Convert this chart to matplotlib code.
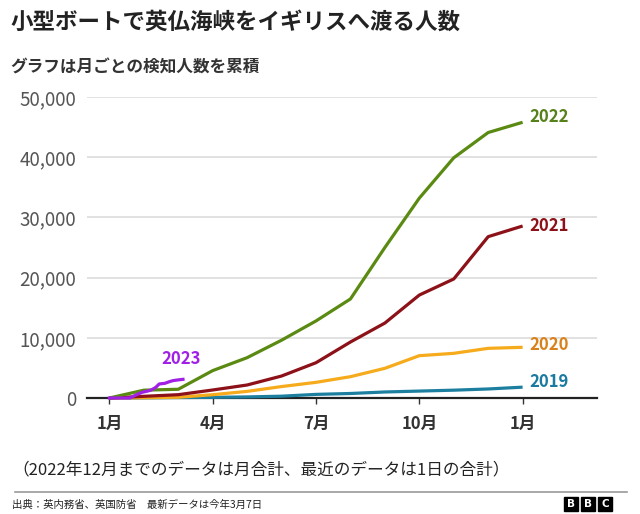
import matplotlib
matplotlib.use("Agg")
import matplotlib.pyplot as plt
from matplotlib.patches import Rectangle
from matplotlib.lines import Line2D
from matplotlib.ticker import FuncFormatter

plt.rcParams['font.family'] = ['Noto Sans CJK JP', 'DejaVu Sans']

title = "小型ボートで英仏海峡をイギリスへ渡る人数"
subtitle = "グラフは月ごとの検知人数を累積"
note = "（2022年12月までのデータは月合計、最近のデータは1日の合計）"
source = "出典：英内務省、英国防省　最新データは今年3月7日"

# month-end index (0 = start of January, 12 = end of December)
months = list(range(13))
tick_pos = [0, 3, 6, 9, 12]
tick_labels = ["1月", "4月", "7月", "10月", "1月"]
y_ticks = [0, 10000, 20000, 30000, 40000, 50000]

v2019 = [0, 30, 80, 110, 180, 300, 600, 750, 1000, 1150, 1300, 1500, 1800]
v2020 = [0, 50, 120, 550, 1100, 1900, 2600, 3540, 4930, 7030, 7420, 8250, 8420]
v2021 = [0, 280, 550, 1330, 2160, 3650, 5860, 9300, 12450, 17100, 19770, 26800, 28570]
v2022 = [0, 1300, 1450, 4550, 6700, 9600, 12800, 16450, 25000, 33200, 39900, 44100, 45800]

# 2023: daily cumulative (day of year, value)
days_2023 = [0, 18, 19, 24, 29, 34, 37, 41, 44, 49, 53, 56, 60, 65]
v2023 = [0, 0, 80, 550, 950, 1160, 1330, 1770, 2330, 2440, 2710, 2880, 2990, 3100]

labels = ["2019", "2020", "2021", "2022"]
line_colors = ["#1c7fa0", "#f6ab1c", "#8c1118", "#5a8a12"]
text_colors = ["#1a7aa0", "#d9821b", "#8c1118", "#55801a"]
label_dy = [3.5, 1.5, 0, 3.5]
series = [v2019, v2020, v2021, v2022]

fig = plt.figure(figsize=(6.4, 5.14), dpi=100)
ax = fig.add_axes([87/640, 116/514, 510/640, 301/514])

for vals, lc, tc, lab, dy in zip(series, line_colors, text_colors, labels, label_dy):
    ax.plot(months, vals, color=lc, lw=2.3, zorder=3, clip_on=False,
            solid_joinstyle='round', solid_capstyle='butt')
    ax.annotate(lab, xy=(months[-1], vals[-1]), xytext=(5, dy),
                textcoords='offset points', ha='left', va='center',
                fontsize=12, fontweight='bold', color=tc)

x2023 = [d / 365 * 12 for d in days_2023]
ax.plot(x2023, v2023, color="#a020e6", lw=2.3, zorder=4, clip_on=False,
        solid_joinstyle='round')
ax.annotate("2023", xy=(x2023[-1], v2023[-1]), xytext=(-1.5, 15),
            textcoords='offset points', ha='center', va='center',
            fontsize=12, fontweight='bold', color="#a020e6")

ax.set_xlim(-0.65, 14.16)
ax.set_ylim(0, 50000)
ax.set_yticks(y_ticks)
ax.yaxis.set_major_formatter(FuncFormatter(lambda v, p: f"{int(v):,}"))
ax.set_xticks(tick_pos)
ax.set_xticklabels(tick_labels, fontweight='bold', fontsize=12, color='#333333')

ax.grid(axis='y', color='#d9d9d9', lw=1.1, zorder=0)
ax.set_axisbelow(True)
for s in ['left', 'right', 'top']:
    ax.spines[s].set_visible(False)
ax.spines['bottom'].set_color('#222222')
ax.spines['bottom'].set_linewidth(1.6)
ax.spines['bottom'].set_zorder(2.5)

ax.tick_params(axis='y', length=0, pad=8, labelsize=13.5, labelcolor='#555555')
ax.tick_params(axis='x', length=4.5, width=1, color='#333333', pad=8)

fig.text(10/640, 1 - 22/514, title, fontsize=16.2, fontweight='bold',
         va='center', ha='left', color='#222222')
fig.text(10/640, 1 - 68/514, subtitle, fontsize=12, fontweight='bold',
         va='center', ha='left', color='#333333')
fig.text(12/640, 1 - 470/514, note, fontsize=12, va='center', ha='left',
         color='#222222')
fig.add_artist(Line2D([15/640, 627/640], [1 - 492/514, 1 - 492/514],
                      color='#999999', lw=1.2))
fig.text(12/640, 1 - 505/514, source, fontsize=7.5, va='center', ha='left',
         color='#222222')

for i, ch in enumerate("BBC"):
    x0 = 564 + i * 17
    fig.add_artist(Rectangle((x0/640, 1 - 511/514), 14/640, 14/514,
                             transform=fig.transFigure, color='black'))
    fig.text((x0 + 7)/640, 1 - 504/514, ch, fontsize=7.5, fontweight='bold',
             color='white', ha='center', va='center', family='DejaVu Sans')

fig.savefig('out.png', dpi=100)
